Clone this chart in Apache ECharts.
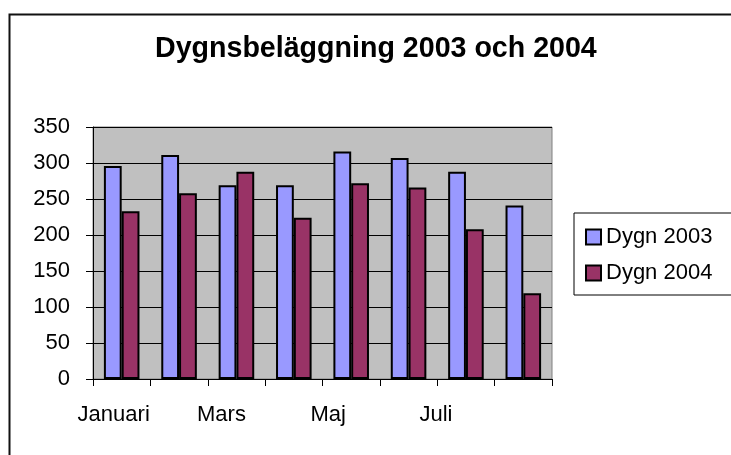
<!DOCTYPE html>
<html>
<head>
<meta charset="utf-8">
<script src="https://cdn.jsdelivr.net/npm/echarts@6/dist/echarts.min.js"></script>
<style>
  html, body { margin: 0; padding: 0; background: #fff; }
  #chart { width: 731px; height: 455px; }
</style>
</head>
<body>
<div id="chart"></div>
<script>
(function() {
  'use strict';

  var months = ['Januari', 'Februari', 'Mars', 'April', 'Maj', 'Juni', 'Juli', 'Augusti'];
  var dygn2003 = [296, 311, 269, 269, 316, 307, 288, 241];
  var dygn2004 = [233, 258, 288, 224, 272, 266, 208, 119];
  var yTicks = [0, 50, 100, 150, 200, 250, 300, 350];

  var font = '"Liberation Sans", Arial, sans-serif';
  // labels in the original drift left a bit more for each shown month
  var labelShift = { 0: 16, 2: 30, 4: 46, 6: 60 };

  var chart = echarts.init(document.getElementById('chart'), null, { renderer: 'canvas' });

  var barStyle = function(color) {
    return { color: color, borderColor: '#000', borderWidth: 2 };
  };

  var option = {
    animation: false,
    backgroundColor: '#fff',
    title: {
      text: 'Dygnsbeläggning 2003 och 2004',
      left: 155,
      top: 35,
      padding: 0,
      textStyle: { fontFamily: font, fontSize: 28.6, fontWeight: 'bold', color: '#000' }
    },
    legend: {
      orient: 'vertical',
      left: 574,
      top: 213,
      padding: [13, 22, 11, 11],
      itemGap: 14,
      itemWidth: 15,
      itemHeight: 15,
      icon: 'rect',
      borderColor: '#000',
      borderWidth: 1,
      backgroundColor: '#fff',
      textStyle: { fontFamily: font, fontSize: 22, color: '#000' },
      data: ['Dygn 2003', 'Dygn 2004']
    },
    grid: {
      left: 93,
      top: 127,
      width: 459,
      height: 252,
      show: true,
      backgroundColor: '#C0C0C0',
      borderColor: '#808080',
      borderWidth: 1,
      containLabel: false
    },
    xAxis: {
      type: 'category',
      data: months,
      axisLine: { lineStyle: { color: '#000', width: 1 } },
      axisTick: { show: true, interval: 0, length: 7, lineStyle: { color: '#000' } },
      axisLabel: {
        interval: 1,
        margin: 25,
        color: '#000',
        fontFamily: font,
        fontSize: 22,
        formatter: function(v, i) {
          return '{s' + i + '|' + v + '}';
        },
        rich: (function() {
          var r = {};
          months.forEach(function(m, i) {
            r['s' + i] = {
              fontFamily: font, fontSize: 22, color: '#000',
              padding: [0, labelShift[i] || 0, 0, 0]
            };
          });
          return r;
        })()
      },
      splitLine: { show: false }
    },
    yAxis: {
      type: 'value',
      min: yTicks[0],
      max: yTicks[yTicks.length - 1],
      interval: 50,
      axisLine: { show: true, lineStyle: { color: '#000', width: 1 } },
      axisTick: { show: true, length: 7, lineStyle: { color: '#000' } },
      axisLabel: { margin: 23, color: '#000', fontFamily: font, fontSize: 22 },
      splitLine: { show: true, lineStyle: { color: '#000', width: 1 } }
    },
    series: [
      {
        name: 'Dygn 2003',
        type: 'bar',
        data: dygn2003,
        barGap: '0%',
        barCategoryGap: '38%',
        itemStyle: barStyle('#9999FF')
      },
      {
        name: 'Dygn 2004',
        type: 'bar',
        data: dygn2004,
        itemStyle: barStyle('#993366')
      }
    ],
    graphic: [
      {
        type: 'rect',
        left: 7,
        top: 12,
        shape: { width: 780, height: 480 },
        style: { fill: 'none', stroke: '#111', lineWidth: 2 },
        silent: true,
        z: 100
      }
    ]
  };

  chart.setOption(option);
})();
</script>
</body>
</html>
